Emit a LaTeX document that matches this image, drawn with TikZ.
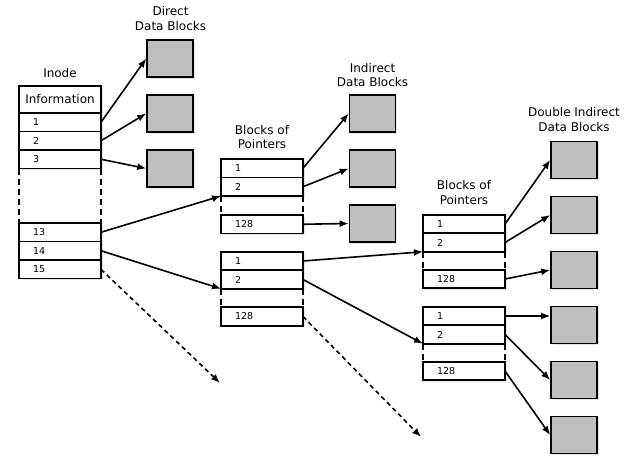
\documentclass[tikz,border=0pt]{standalone}
\usepackage{fontspec}
\setmainfont{DejaVu Sans}
\usepackage{tikz}
\usetikzlibrary{arrows.meta}
\usetikzlibrary{shadows}
\definecolor{blockgray}{RGB}{191,191,191}
\def\boxline{1.6pt}
\tikzset{every node/.style={font=\fontsize{12}{14.5}\selectfont}}
\tikzset{softshadow/.style={drop shadow={shadow xshift=1.5pt, shadow yshift=-1.5pt, opacity=0.2}}}
\tikzset{rownode/.style={draw, fill=white, line width=\boxline, softshadow, minimum width=82pt, minimum height=18.5pt, inner xsep=14pt, text width=54pt, align=left, outer sep=0pt, font=\fontsize{9.5}{11}\selectfont}}
\tikzset{infonode/.style={draw, fill=white, line width=\boxline, softshadow, minimum width=82pt, minimum height=27pt, outer sep=0pt}}
\tikzset{datablock/.style={draw, fill=blockgray, line width=\boxline, softshadow, minimum width=46pt, minimum height=37pt}}
\tikzset{ptr/.style={line width=\boxline, -{Latex[length=9pt,width=7pt]}}}
\tikzset{ptrdash/.style={ptr, dash pattern=on 4.5pt off 3.5pt}}
\tikzset{gapline/.style={line width=\boxline, dash pattern=on 6pt off 4pt}}

\begin{document}
\begin{tikzpicture}[x=1pt, y=-1pt]
\useasboundingbox (0,0) rectangle (625,456);

\node (inodelabel) at (60,73) {Inode};
\node (info) [infonode] at (60,99.5) {Information};
\node (i1) [rownode] at (60,122.25) {1};
\node (i2) [rownode] at (60,140.75) {2};
\node (i3) [rownode] at (60,159.25) {3};
\node (i13) [rownode] at (60,232.25) {13};
\node (i14) [rownode] at (60,250.75) {14};
\node (i15) [rownode] at (60,269.25) {15};
\draw[gapline] (i3.south west) to (i13.north west);
\draw[gapline] (i3.south east) to (i13.north east);

\node (directlabel) [align=center] at (170.5,18.5) {Direct\\Data Blocks};
\node (d1) [datablock] at (170,58.5) {};
\node (d2) [datablock] at (170,113.5) {};
\node (d3) [datablock] at (170,168.5) {};

\node (ptrlabela) [align=center] at (262,137) {Blocks of\\Pointers};
\node (a1) [rownode] at (262,168.25) {1};
\node (a2) [rownode] at (262,186.75) {2};
\node (a128) [rownode] at (262,224.25) {128};
\draw[gapline] (a2.south west) to (a128.north west);
\draw[gapline] (a2.south east) to (a128.north east);

\node (b1) [rownode] at (262,261) {1};
\node (b2) [rownode] at (262,279.5) {2};
\node (b128) [rownode] at (262,316.5) {128};
\draw[gapline] (b2.south west) to (b128.north west);
\draw[gapline] (b2.south east) to (b128.north east);

\node (indirectlabel) [align=center] at (372.5,75) {Indirect\\Data Blocks};
\node (n1) [datablock] at (372.5,113.5) {};
\node (n2) [datablock] at (372.5,168.5) {};
\node (n3) [datablock] at (372.5,223.5) {};

\node (ptrlabelc) [align=center] at (464,192.5) {Blocks of\\Pointers};
\node (c1) [rownode] at (464,224) {1};
\node (c2) [rownode] at (464,242.5) {2};
\node (c128) [rownode] at (464,279) {128};
\draw[gapline] (c2.south west) to (c128.north west);
\draw[gapline] (c2.south east) to (c128.north east);

\node (e1) [rownode] at (464,316) {1};
\node (e2) [rownode] at (464,334.5) {2};
\node (e128) [rownode] at (464,371) {128};
\draw[gapline] (e2.south west) to (e128.north west);
\draw[gapline] (e2.south east) to (e128.north east);

\node (doublelabel) [align=center] at (574,119.5) {Double Indirect\\Data Blocks};
\node (dd1) [datablock] at (574,160) {};
\node (dd2) [datablock] at (574,215) {};
\node (dd3) [datablock] at (574,270) {};
\node (dd4) [datablock] at (574,325) {};
\node (dd5) [datablock] at (574,380) {};
\node (dd6) [datablock] at (574,435) {};

\coordinate (end15) at (220,383);
\coordinate (end128) at (421,437);

\draw[ptr] (i1.east) to (d1.west);
\draw[ptr] (i2.east) to (d2.west);
\draw[ptr] (i3.east) to (d3.west);
\draw[ptr] (i13.east) to (a2.south west);
\draw[ptr] (i14.east) to (b2.south west);
\draw[ptrdash] (i15.east) to (end15);

\draw[ptr] (a1.east) to (n1.west);
\draw[ptr] (a2.east) to (n2.west);
\draw[ptr] (a128.east) to (n3.west);
\draw[ptr] (b1.east) to (c2.south west);
\draw[ptr] (b2.east) to (e2.south west);
\draw[ptrdash] (b128.east) to (end128);

\draw[ptr] (c1.east) to (dd1.west);
\draw[ptr] (c2.east) to (dd2.west);
\draw[ptr] (c128.east) to (dd3.west);
\draw[ptr] (e1.east) to (e1.east -| dd4.west);
\draw[ptr] (e2.east) to (dd5.west);
\draw[ptr] (e128.east) to (dd6.west);
\end{tikzpicture}
\end{document}
